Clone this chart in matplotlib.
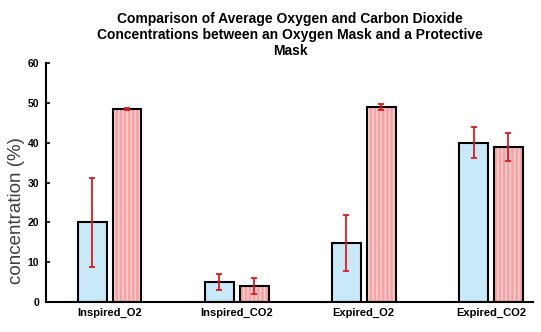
import matplotlib
matplotlib.use("Agg")
import matplotlib.pyplot as plt
import numpy as np

categories = ["Inspired_O2", "Inspired_CO2", "Expired_O2", "Expired_CO2"]
oxygen_mask = [20.0, 5.0, 14.8, 40.0]
oxygen_err = [11.2, 2.0, 7.0, 3.9]
protective_mask = [48.5, 4.0, 48.9, 38.9]
protective_err = [0.3, 2.0, 0.7, 3.6]
yticks = [0, 10, 20, 30, 40, 50, 60]

title = ("Comparison of Average Oxygen and Carbon Dioxide\n"
         "Concentrations between an Oxygen Mask and a Protective\n"
         "Mask")

plt.rcParams['font.family'] = ['Liberation Sans', 'DejaVu Sans']

fig = plt.figure(figsize=(5.41, 3.32), dpi=100)
ax = fig.add_axes([0.085, 0.0904, 0.9, 0.7196])

x = np.arange(len(categories))
w = 0.227
off = 0.137

blue = "#c8e9f8"
pink = "#f7a3a3"
red = "#e3161b"

ax.bar(x - off, oxygen_mask, width=w, color=blue, edgecolor="black", linewidth=1.5, zorder=2)
ax.bar(x + off, protective_mask, width=w, color=pink, edgecolor="#fcd6d6", hatch="||||", linewidth=0, zorder=2)
ax.bar(x + off, protective_mask, width=w, fill=False, edgecolor="black", linewidth=1.5, zorder=3)

ax.errorbar(x - off, oxygen_mask, yerr=oxygen_err, fmt="none", ecolor=red, elinewidth=1.3, capsize=2.5, capthick=1.3, zorder=4)
ax.errorbar(x + off, protective_mask, yerr=protective_err, fmt="none", ecolor=red, elinewidth=1.3, capsize=2.5, capthick=1.3, zorder=4)

ax.set_xlim(-0.5, 3.33)
ax.set_ylim(0, 60)
ax.set_yticks(yticks)
ax.set_xticks(x)
ax.set_xticklabels(categories, fontsize=8, fontweight="bold")
ax.tick_params(axis="y", direction="in", length=3, width=1.2, labelsize=7.5, pad=5)
ax.tick_params(axis="x", length=0, pad=4)
for lab in ax.get_yticklabels():
    lab.set_fontweight("bold")

for s in ["top", "right"]:
    ax.spines[s].set_visible(False)
for s in ["left", "bottom"]:
    ax.spines[s].set_linewidth(1.5)

fig.text(17 / 541, 1 - 211 / 332, "concentration (%)", rotation=90, ha="center", va="center",
         fontsize=13.5, color="#404040")
fig.text(0.536, 0.964, title, ha="center", va="top", fontsize=10, fontweight="bold", linespacing=1.18)

fig.savefig("out.png", dpi=100)
